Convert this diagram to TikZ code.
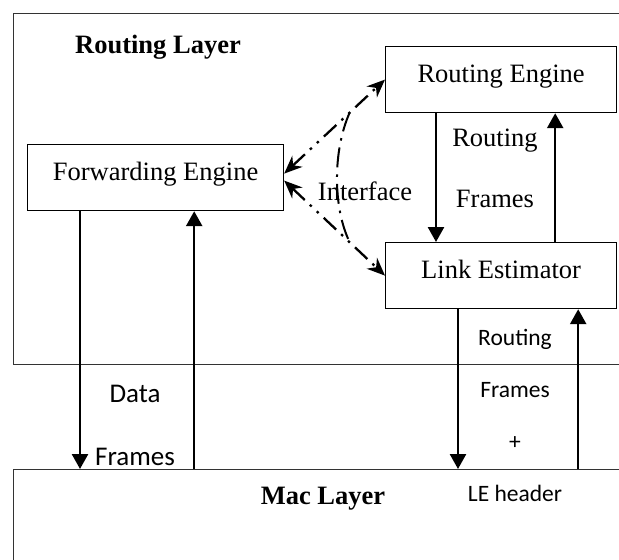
\documentclass[tikz,border=0pt]{standalone}
\usepackage{fontspec}
\setmainfont{Liberation Serif}
\newfontfamily\calibri{Carlito}
\usetikzlibrary{arrows.meta}

\begin{document}
\begin{tikzpicture}[x=1pt, y=-1pt,
    layerbox/.style={draw=black!80, line width=1.4pt, inner sep=0pt},
    unit/.style={draw, line width=1.2pt, inner sep=0pt, minimum height=66pt, text height=18pt, text depth=12pt, font=\fontsize{26.5}{30}\selectfont},
    title/.style={font=\fontsize{26.5}{30}\selectfont\bfseries},
    flow/.style={-{Triangle[length=15pt,width=16pt]}, line width=2.5pt},
    ifline/.style={{Stealth[length=18pt,width=15pt]}-{Stealth[length=18pt,width=15pt]}, line width=2.3pt, dash pattern=on 17pt off 7pt on 2.5pt off 7pt on 2.5pt off 7pt},
    ifcurve/.style={line width=2pt, dash pattern=on 20pt off 7pt on 2.5pt off 7pt},
    serifnote/.style={font=\fontsize{26.5}{61}\selectfont, align=center, inner sep=0pt},
    sansnote/.style={font=\calibri\fontsize{23.5}{52}\selectfont, align=center, inner sep=0pt}
]
\useasboundingbox (0,0) rectangle (619,560);
\clip (0,0) rectangle (619,560);

% layers (open to the right)
\node[layerbox, anchor=north west, minimum width=660pt, minimum height=351pt] (routL) at (13,13) {};
\node[title] (routT) at (158,47) {Routing Layer};
\node[layerbox, anchor=north west, minimum width=660pt, minimum height=140pt] (macL) at (13,469) {};
\node[title] (macT) at (323,499) {Mac Layer};

% engines
\node[unit, anchor=north west, minimum width=231pt] (eng) at (385,46) {Routing Engine};
\node[unit, anchor=north west, minimum width=231pt] (est) at (385,242) {Link Estimator};
\node[unit, anchor=north west, minimum width=256pt] (fwd) at (27,144) {Forwarding Engine};

% frame paths
\coordinate (engDn) at ([xshift=51pt]eng.south west);
\coordinate (engUp) at ([xshift=-62pt]eng.south east);
\coordinate (estDn) at ([xshift=73pt]est.south west);
\coordinate (estUp) at ([xshift=-39pt]est.south east);
\coordinate (fwdDn) at ([xshift=53pt]fwd.south west);
\coordinate (fwdUp) at ([xshift=-90pt]fwd.south east);

\draw[flow] (engDn) -- (engDn |- est.north);
\draw[flow] (engUp |- est.north) -- (engUp);
\draw[flow] (fwdDn) -- (fwdDn |- macL.north);
\draw[flow] (fwdUp |- macL.north) -- (fwdUp);
\draw[flow] (estDn) -- (estDn |- macL.north);
\draw[flow] (estUp |- macL.north) -- (estUp);

% interface
\draw[ifline] ([yshift=4pt]fwd.east) -- coordinate[pos=.65] (ifTop) (eng.west);
\draw[ifline] ([yshift=-3pt]fwd.east) -- coordinate[pos=.65] (ifBot) (est.west);
\draw[ifcurve] (ifTop) .. controls +(-17,38) and +(-17,-35) .. (ifBot);
\node[serifnote] (ifLbl) at (365,191) {Interface};

% labels
\node[serifnote] (rfLbl) at (495,168) {Routing\\Frames};
\node[sansnote, font=\calibri\fontsize{27}{63}\selectfont] (dfLbl) at (135,425) {Data\\Frames};
\node[sansnote] (leLbl) at (515,415) {Routing\\Frames\\+\\LE header};

\end{tikzpicture}
\end{document}
